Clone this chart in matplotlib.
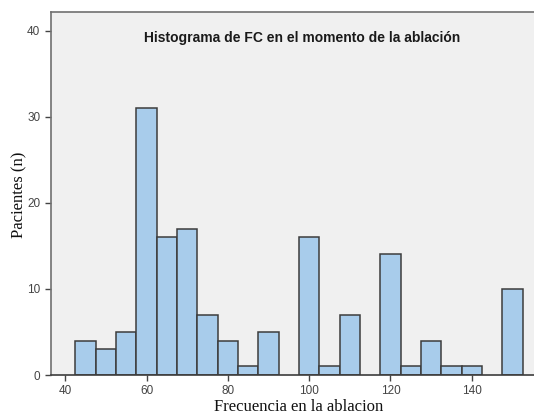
import matplotlib
matplotlib.use("Agg")
import matplotlib.pyplot as plt

# ------------------------------------------------------------
# Data (bin width = 5)
# ------------------------------------------------------------
bin_centers = [45, 50, 55, 60, 65, 70, 75, 80, 85, 90, 95,
               100, 105, 110, 115, 120, 125, 130, 135, 140, 145, 150]
counts = [4, 3, 5, 31, 16, 17, 7, 4, 1, 5, 0,
          16, 1, 7, 0, 14, 1, 4, 1, 1, 0, 10]
bin_width = 5

x_ticks = [40, 60, 80, 100, 120, 140]
y_ticks = [0, 10, 20, 30, 40]

title = "Histograma de FC en el momento de la ablación"
xlabel = "Frecuencia en la ablacion"
ylabel = "Pacientes (n)"

# ------------------------------------------------------------
# Plot
# ------------------------------------------------------------
W, H = 534, 417
fig = plt.figure(figsize=(W / 100, H / 100), dpi=100)

# axes runs past the right edge of the image (as in the reference)
left, right, top, bottom = 50.7, 540, 11.7, 375
ax = fig.add_axes([left / W, 1 - bottom / H, (right - left) / W, (bottom - top) / H])
ax.set_facecolor("#f0f0f0")

xs = [c for c, n in zip(bin_centers, counts) if n > 0]
ns = [n for n in counts if n > 0]
ax.bar(xs, ns, width=bin_width, color="#a8cceb",
       edgecolor="#3c3c3c", linewidth=1.1, zorder=2)

ax.set_xlim(36.4, 156.8)
ax.set_ylim(0, 42.2)
ax.set_xticks(x_ticks)
ax.set_yticks(y_ticks)

for side in ["top", "left", "right"]:
    ax.spines[side].set_color("#707070")
    ax.spines[side].set_linewidth(1.2)
ax.spines["bottom"].set_color("#3c3c3c")
ax.spines["bottom"].set_linewidth(1.2)

ax.tick_params(axis="both", direction="out", length=4, width=1,
               color="#444444", labelsize=8.5, labelcolor="#444444")
for lab in ax.get_xticklabels() + ax.get_yticklabels():
    lab.set_family("Liberation Sans")

fig.text(302 / W, 1 - 38 / H, title, ha="center", va="center",
         fontsize=10, fontweight="bold",
         family="Liberation Sans", color="#1a1a1a")

fig.text(299 / W, 1 - 407 / H, xlabel, ha="center", va="center",
         fontsize=12, family="Liberation Serif", color="#111111")
fig.text(19 / W, 1 - 195 / H, ylabel, ha="center", va="center",
         rotation=90, fontsize=12, family="Liberation Serif", color="#111111")

fig.savefig("out.png", dpi=100, facecolor="white")
